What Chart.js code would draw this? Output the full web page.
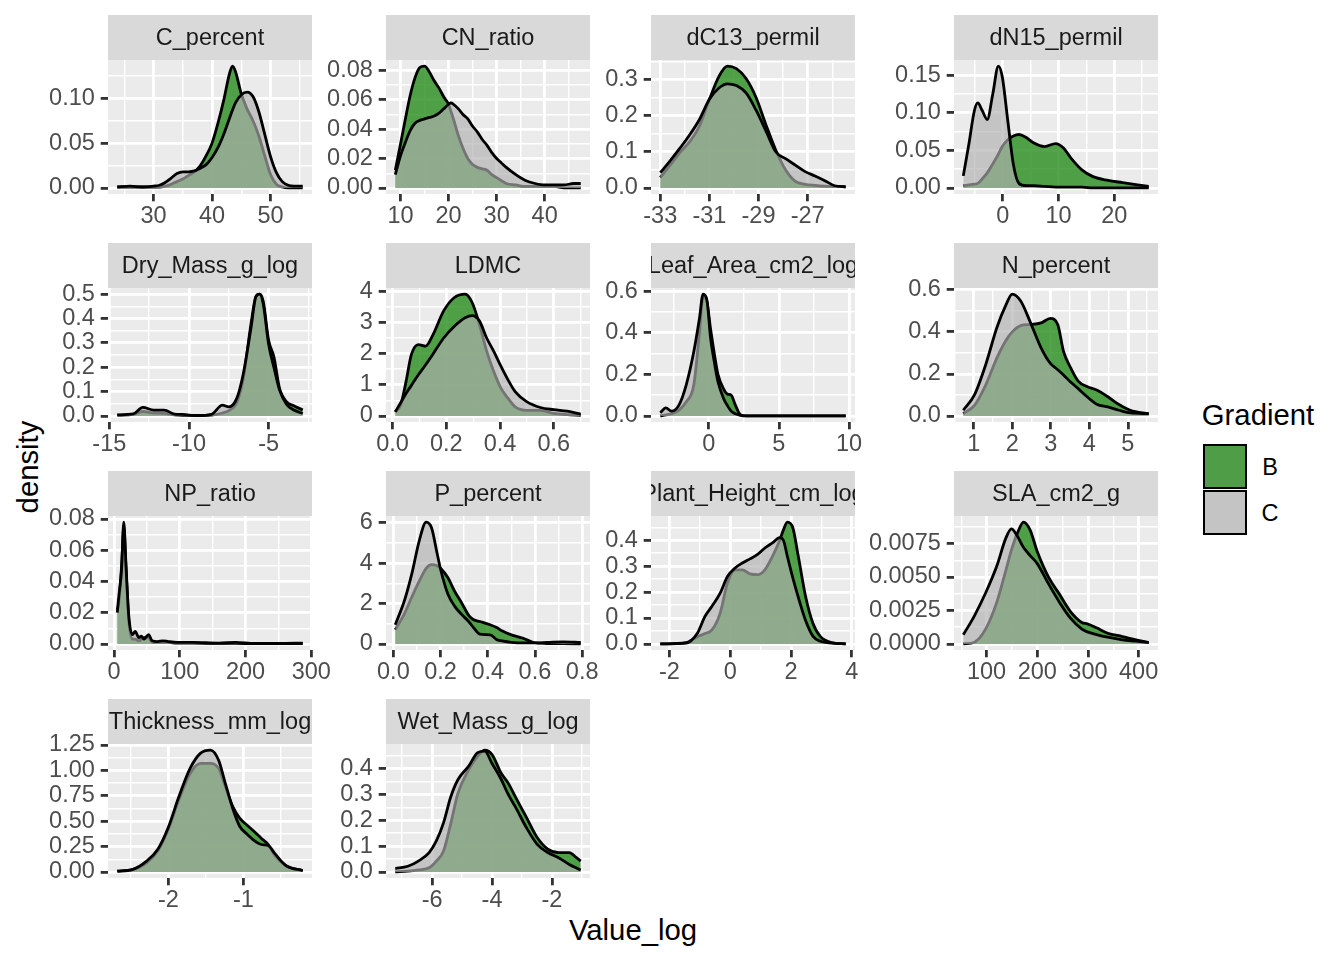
<!DOCTYPE html>
<html>
<head>
<meta charset="utf-8">
<script src="https://cdn.jsdelivr.net/npm/chart.js@4.4.1/dist/chart.umd.min.js"></script>
<style>
  body { margin: 0; background: #fff; width: 1344px; height: 960px; position: relative; overflow: hidden;
         font-family: "Liberation Sans", Arial, Helvetica, sans-serif; }
  canvas { position: absolute; }
  .txt { position: absolute; white-space: nowrap; transform: translate(-50%, -50%); color: #000; }
  .key { position: absolute; box-sizing: border-box; border: 2.8px solid #000; width: 44px; height: 45px; }
</style>
</head>
<body>

<div class="txt" style="left:633px;top:930px;font-size:29.3px">Value_log</div>
<div class="txt" style="left:28px;top:467px;font-size:29.3px;transform:translate(-50%,-50%) rotate(-90deg)">density</div>

<div class="txt" style="left:1258px;top:415px;font-size:29.3px">Gradient</div>
<div class="key" style="left:1203px;top:444px;background:#4f9e47"></div>
<div class="key" style="left:1203px;top:490px;background:#c4c4c4"></div>
<div class="txt" style="left:1270px;top:467px;font-size:23.5px;color:#000">B</div>
<div class="txt" style="left:1270px;top:513px;font-size:23.5px;color:#000">C</div>

<script>
const FONT = '"Liberation Sans", Arial, Helvetica, sans-serif';

// facet names, in panel order
const traits = ['C_percent', 'CN_ratio', 'dC13_permil', 'dN15_permil', 'Dry_Mass_g_log', 'LDMC',
  'Leaf_Area_cm2_log', 'N_percent', 'NP_ratio', 'P_percent', 'Plant_Height_cm_log', 'SLA_cm2_g',
  'Thickness_mm_log', 'Wet_Mass_g_log'];

// density curves: x grid, gradient B, gradient C
const cPctX = [23.8, 26, 28, 30, 31, 32, 33, 34, 35, 36, 37, 38, 39, 40, 41, 42, 43, 43.5, 44, 45, 46, 47, 48, 49, 50, 51, 52, 53, 54, 55.5];
const cPctB = [0.001, 0.001, 0.001, 0.001, 0.001, 0.002, 0.004, 0.007, 0.010, 0.014, 0.018, 0.025, 0.036, 0.05, 0.072, 0.098, 0.128, 0.136, 0.13, 0.105, 0.088, 0.075, 0.058, 0.036, 0.015, 0.004, 0.001, 0, 0, 0];
const cPctC = [0.001, 0.002, 0.001, 0.002, 0.003, 0.006, 0.011, 0.016, 0.018, 0.018, 0.019, 0.022, 0.026, 0.034, 0.045, 0.06, 0.078, 0.087, 0.095, 0.104, 0.107, 0.102, 0.085, 0.06, 0.035, 0.017, 0.007, 0.003, 0.002, 0.002];

const cnX = [8.9, 10, 11, 12, 13, 14, 15, 16, 17, 18, 19, 20, 20.5, 21, 22, 23, 24, 25, 26, 27, 28, 29, 30, 31, 32, 34, 36, 38, 40, 42, 44, 46, 47.5];
const cnB = [0.012, 0.03, 0.047, 0.063, 0.075, 0.082, 0.083, 0.079, 0.073, 0.068, 0.062, 0.057, 0.052, 0.047, 0.036, 0.027, 0.02, 0.016, 0.014, 0.013, 0.012, 0.009, 0.007, 0.005, 0.003, 0.002, 0.001, 0.001, 0.001, 0.001, 0, 0, 0];
const cnC = [0.009, 0.022, 0.031, 0.039, 0.044, 0.046, 0.047, 0.048, 0.049, 0.051, 0.054, 0.057, 0.058, 0.057, 0.054, 0.05, 0.047, 0.042, 0.038, 0.033, 0.029, 0.024, 0.02, 0.017, 0.014, 0.009, 0.005, 0.003, 0.002, 0.002, 0.002, 0.003, 0.003];

const dC13X = [-33, -32.6, -32.2, -31.8, -31.4, -31.0, -30.6, -30.27, -29.9, -29.5, -29.1, -28.7, -28.3, -27.9, -27.5, -27.1, -26.7, -26.3, -25.9, -25.45];
const dC13B = [0.029, 0.063, 0.098, 0.128, 0.172, 0.245, 0.31, 0.337, 0.33, 0.302, 0.25, 0.175, 0.105, 0.05, 0.018, 0.01, 0.007, 0.005, 0.004, 0.003];
const dC13C = [0.042, 0.075, 0.11, 0.147, 0.19, 0.245, 0.277, 0.288, 0.283, 0.262, 0.215, 0.158, 0.1, 0.081, 0.063, 0.045, 0.033, 0.02, 0.006, 0.003];

const dN15X = [-7.1, -6.1, -5.1, -4.5, -3.7, -2.8, -1.8, -0.8, -0.1, 0.9, 1.9, 2.9, 4.2, 5.5, 7.5, 9.5, 10.9, 12.2, 14.2, 16.2, 18.9, 21.5, 24.2, 26.2];
const dN15B = [0.003, 0.004, 0.005, 0.006, 0.012, 0.02, 0.032, 0.045, 0.055, 0.064, 0.069, 0.071, 0.067, 0.06, 0.055, 0.059, 0.053, 0.04, 0.024, 0.015, 0.01, 0.007, 0.004, 0.002];
const dN15C = [0.016, 0.058, 0.103, 0.113, 0.103, 0.091, 0.125, 0.162, 0.148, 0.089, 0.031, 0.006, 0.003, 0.003, 0.002, 0.001, 0.001, 0.001, 0.001, 0, 0, 0, 0, 0];

const dryX = [-14.5, -13.5, -12.9, -12.2, -11.55, -10.9, -10.4, -9.5, -8.6, -7.9, -7.5, -7.0, -6.6, -6.1, -5.8, -5.56, -5.34, -5.0, -4.66, -4.32, -3.87, -3.42, -2.86];
const dryB = [0.003, 0.006, 0.018, 0.012, 0.01, 0.004, 0.002, 0.002, 0.003, 0.012, 0.022, 0.055, 0.15, 0.38, 0.49, 0.5, 0.47, 0.31, 0.24, 0.114, 0.058, 0.042, 0.024];
const dryC = [0.004, 0.008, 0.035, 0.024, 0.024, 0.007, 0.006, 0.001, 0.006, 0.044, 0.037, 0.072, 0.17, 0.364, 0.489, 0.5, 0.46, 0.294, 0.197, 0.107, 0.047, 0.024, 0.01];

const ldmcX = [0.01, 0.03, 0.05, 0.07, 0.096, 0.123, 0.15, 0.19, 0.23, 0.27, 0.296, 0.323, 0.35, 0.376, 0.403, 0.43, 0.456, 0.5, 0.55, 0.6, 0.65, 0.7];
const ldmcB = [0.13, 0.35, 1.1, 1.97, 2.29, 2.24, 2.6, 3.37, 3.8, 3.91, 3.64, 2.94, 2.08, 1.43, 0.89, 0.56, 0.29, 0.18, 0.18, 0.08, 0.04, 0.02];
const ldmcC = [0.13, 0.42, 0.72, 0.98, 1.32, 1.64, 1.98, 2.5, 2.88, 3.15, 3.22, 3.05, 2.5, 2.08, 1.6, 1.15, 0.78, 0.45, 0.27, 0.2, 0.15, 0.06];

const leafX = [-3.45, -3.05, -2.65, -2.12, -1.6, -1.06, -0.66, -0.4, -0.13, 0.13, 0.4, 0.66, 1.06, 1.33, 1.6, 1.9, 2.25, 2.65, 4, 6, 8, 9.76];
const leafB = [0, 0.005, 0.011, 0.028, 0.068, 0.15, 0.4, 0.575, 0.55, 0.42, 0.3, 0.2, 0.13, 0.105, 0.1, 0.052, 0.006, 0, 0, 0, 0, 0];
const leafC = [0.015, 0.039, 0.023, 0.052, 0.15, 0.31, 0.47, 0.587, 0.56, 0.376, 0.26, 0.165, 0.084, 0.05, 0.023, 0.01, 0.003, 0, 0, 0, 0, 0];

const nPctX = [0.73, 1.02, 1.31, 1.6, 1.84, 2.0, 2.22, 2.46, 2.75, 2.99, 3.18, 3.33, 3.52, 3.71, 3.95, 4.19, 4.48, 4.77, 5.06, 5.54];
const nPctB = [0.011, 0.05, 0.147, 0.275, 0.36, 0.4, 0.43, 0.435, 0.443, 0.464, 0.435, 0.307, 0.227, 0.166, 0.139, 0.123, 0.091, 0.054, 0.027, 0.01];
const nPctC = [0.027, 0.1, 0.243, 0.42, 0.53, 0.58, 0.547, 0.45, 0.323, 0.25, 0.22, 0.195, 0.16, 0.13, 0.09, 0.056, 0.043, 0.027, 0.014, 0.011];

const npX = [4.9, 7.1, 11.5, 14.8, 18, 22.4, 27.9, 32.2, 37.7, 41.5, 45.4, 52.5, 58, 66, 74.3, 82.5, 96, 120, 159, 185, 214, 250, 287];
const npB = [0.022, 0.026, 0.05, 0.075, 0.05, 0.015, 0.003, 0.003, 0.002, 0.003, 0.004, 0.004, 0.001, 0.001, 0.001, 0.001, 0.0005, 0.0005, 0.0003, 0.0003, 0.0002, 0.0002, 0.0002];
const npC = [0.02, 0.03, 0.048, 0.078, 0.052, 0.018, 0.006, 0.008, 0.004, 0.005, 0.003, 0.006, 0.002, 0.0015, 0.002, 0.0015, 0.001, 0.001, 0.0005, 0.001, 0.0003, 0.0003, 0.0005];

const pPctX = [0.008, 0.048, 0.079, 0.109, 0.139, 0.162, 0.185, 0.2, 0.23, 0.26, 0.29, 0.32, 0.34, 0.367, 0.41, 0.44, 0.46, 0.5, 0.55, 0.594, 0.65, 0.72, 0.794];
const pPctB = [0.7, 1.53, 2.35, 3.1, 3.75, 3.93, 3.88, 3.75, 3.3, 2.6, 2.02, 1.4, 1.2, 1.11, 0.95, 0.8, 0.65, 0.45, 0.28, 0.07, 0.02, 0.01, 0];
const pPctC = [0.95, 2.19, 3.52, 5.09, 6.04, 5.75, 4.51, 3.7, 2.5, 1.86, 1.45, 1.1, 0.8, 0.48, 0.45, 0.2, 0.15, 0.08, 0.05, 0.05, 0.07, 0.1, 0.07];

const heightX = [-2.3, -1.45, -1.08, -0.83, -0.6, -0.33, -0.09, 0.16, 0.4, 0.65, 0.9, 1.14, 1.39, 1.63, 1.75, 1.88, 2.06, 2.24, 2.48, 2.72, 2.97, 3.34, 3.8];
const heightB = [0, 0.005, 0.028, 0.04, 0.054, 0.119, 0.235, 0.286, 0.286, 0.27, 0.267, 0.286, 0.338, 0.4, 0.44, 0.47, 0.448, 0.338, 0.183, 0.08, 0.028, 0.005, 0];
const heightC = [0, 0.003, 0.041, 0.106, 0.145, 0.196, 0.26, 0.293, 0.312, 0.328, 0.345, 0.37, 0.39, 0.41, 0.4, 0.338, 0.255, 0.18, 0.09, 0.03, 0.01, 0.003, 0];

const slaX = [54, 76, 98, 120, 138, 149, 160, 173, 186, 200, 222, 244, 266, 288, 299, 317, 339, 368, 395, 420];
const slaB = [0, 0.00013, 0.0011, 0.0031, 0.0055, 0.007, 0.0082, 0.0091, 0.0085, 0.0069, 0.005, 0.0037, 0.0024, 0.0016, 0.0015, 0.0012, 0.0008, 0.00055, 0.0003, 0.0001];
const slaC = [0.00068, 0.0021, 0.0038, 0.0058, 0.0079, 0.0086, 0.0081, 0.0072, 0.0066, 0.006, 0.0045, 0.0031, 0.0019, 0.0011, 0.0009, 0.0007, 0.0005, 0.0003, 0.0002, 0.0001];

const thickX = [-2.68, -2.48, -2.29, -2.14, -2.0, -1.86, -1.71, -1.57, -1.44, -1.33, -1.24, -1.14, -1.05, -0.95, -0.86, -0.76, -0.67, -0.58, -0.43, -0.21];
const thickB = [0.007, 0.023, 0.09, 0.207, 0.42, 0.71, 0.97, 1.07, 1.07, 1.02, 0.84, 0.64, 0.53, 0.46, 0.4, 0.33, 0.27, 0.16, 0.06, 0.013];
const thickC = [0.007, 0.023, 0.107, 0.223, 0.44, 0.74, 1.02, 1.17, 1.2, 1.1, 0.87, 0.62, 0.45, 0.37, 0.31, 0.27, 0.26, 0.18, 0.06, 0.013];

const wetX = [-7.23, -6.81, -6.46, -6.1, -5.86, -5.62, -5.38, -5.14, -4.78, -4.48, -4.24, -4.0, -3.7, -3.46, -3.22, -2.86, -2.5, -2.14, -1.78, -1.42, -1.18, -1.04];
const wetB = [0, 0.003, 0.008, 0.016, 0.042, 0.081, 0.186, 0.304, 0.396, 0.449, 0.472, 0.455, 0.383, 0.344, 0.291, 0.213, 0.134, 0.088, 0.075, 0.075, 0.055, 0.042];
const wetC = [0.013, 0.022, 0.042, 0.075, 0.12, 0.19, 0.29, 0.357, 0.41, 0.462, 0.468, 0.42, 0.36, 0.3, 0.252, 0.173, 0.108, 0.075, 0.055, 0.029, 0.015, 0.007];

// tick labels per panel (x, then y)
const xTickLabels = [
  ['30', '40', '50'], ['10', '20', '30', '40'], ['-33', '-31', '-29', '-27'], ['0', '10', '20'],
  ['-15', '-10', '-5'], ['0.0', '0.2', '0.4', '0.6'], ['0', '5', '10'], ['1', '2', '3', '4', '5'],
  ['0', '100', '200', '300'], ['0.0', '0.2', '0.4', '0.6', '0.8'], ['-2', '0', '2', '4'], ['100', '200', '300', '400'],
  ['-2', '-1'], ['-6', '-4', '-2']
];
const yTickLabels = [
  ['0.00', '0.05', '0.10'], ['0.00', '0.02', '0.04', '0.06', '0.08'], ['0.0', '0.1', '0.2', '0.3'], ['0.00', '0.05', '0.10', '0.15'],
  ['0.0', '0.1', '0.2', '0.3', '0.4', '0.5'], ['0', '1', '2', '3', '4'], ['0.0', '0.2', '0.4', '0.6'], ['0.0', '0.2', '0.4', '0.6'],
  ['0.00', '0.02', '0.04', '0.06', '0.08'], ['0', '2', '4', '6'], ['0.0', '0.1', '0.2', '0.3', '0.4'], ['0.0000', '0.0025', '0.0050', '0.0075'],
  ['0.00', '0.25', '0.50', '0.75', '1.00', '1.25'], ['0.0', '0.1', '0.2', '0.3', '0.4']
];

const curves = [
  [cPctX, cPctB, cPctC], [cnX, cnB, cnC], [dC13X, dC13B, dC13C], [dN15X, dN15B, dN15C],
  [dryX, dryB, dryC], [ldmcX, ldmcB, ldmcC], [leafX, leafB, leafC], [nPctX, nPctB, nPctC],
  [npX, npB, npC], [pPctX, pPctB, pPctC], [heightX, heightB, heightC], [slaX, slaB, slaC],
  [thickX, thickB, thickC], [wetX, wetB, wetC]
];

// layout (px)
const COL_LEFT = [108, 386, 651, 954];
const PANEL_W = 204, PANEL_H = 134, STRIP_H = 45;
const ROW_TOP = [15, 243, 471, 699];
const AXIS_W = 100, AXIS_H = 42, PAD_R = 36;

const FILL_B = 'rgba(40,140,30,0.8)';
const FILL_C = 'rgba(176,176,176,0.66)';

function minorTicks(major, lo, hi) {
  const step = major.length > 1 ? major[1] - major[0] : 1;
  const out = [major[0] - step / 2];
  major.forEach(v => out.push(v + step / 2));
  return out.filter(v => v > lo && v < hi);
}

function axis(lo, hi, labels, isX) {
  const major = labels.map(Number);
  const tol = (hi - lo) * 1e-6;
  const isMajor = v => major.some(m => Math.abs(m - v) < tol);
  const all = major.filter(v => v >= lo && v <= hi).concat(minorTicks(major, lo, hi)).sort((a, b) => a - b);
  return {
    type: 'linear', min: lo, max: hi, bounds: 'data',
    afterBuildTicks: s => { s.ticks = all.map(v => ({ value: v })); },
    afterFit: s => { if (isX) s.height = AXIS_H; else s.width = AXIS_W; },
    ticks: {
      autoSkip: false, maxRotation: 0, minRotation: 0,
      padding: isX ? 3 : 5.9,
      color: '#4D4D4D',
      font: { family: FONT, size: 23.5, lineHeight: 1 },
      callback: v => {
        const k = major.findIndex(m => Math.abs(m - v) < tol);
        return k < 0 ? '' : labels[k];
      }
    },
    grid: {
      color: '#FFFFFF',
      lineWidth: c => (c.tick && isMajor(c.tick.value)) ? 2.8 : 1.4,
      drawTicks: true, tickLength: 7.3, tickWidth: 2.8,
      tickColor: c => (c.tick && isMajor(c.tick.value)) ? '#333333' : 'rgba(0,0,0,0)'
    },
    border: { display: false }
  };
}

// grey panel background + facet strip
function stripPlugin(name) {
  return {
    id: 'strip',
    beforeDraw(chart) {
      const { ctx, chartArea: a } = chart;
      ctx.save();
      ctx.fillStyle = '#EBEBEB';
      ctx.fillRect(a.left, a.top, a.width, a.height);
      ctx.fillStyle = '#D9D9D9';
      ctx.fillRect(a.left, a.top - STRIP_H, a.width, STRIP_H);
      ctx.beginPath();
      ctx.rect(a.left, a.top - STRIP_H, a.width, STRIP_H);
      ctx.clip();
      ctx.fillStyle = '#1A1A1A';
      ctx.font = '23.5px ' + FONT;
      ctx.textAlign = 'center';
      ctx.textBaseline = 'middle';
      ctx.fillText(name, a.left + a.width / 2, a.top - STRIP_H / 2 + 1);
      ctx.restore();
    }
  };
}

traits.forEach((name, i) => {
  const [xs, bs, cs] = curves[i];
  const col = i % 4, row = Math.floor(i / 4);

  const xLo = Math.min(...xs), xHi = Math.max(...xs);
  const xPad = (xHi - xLo) * 0.05;
  const yMax = Math.max(...bs, ...cs);

  const canvas = document.createElement('canvas');
  canvas.width = AXIS_W + PANEL_W + PAD_R;
  canvas.height = STRIP_H + PANEL_H + AXIS_H;
  canvas.style.left = (COL_LEFT[col] - AXIS_W) + 'px';
  canvas.style.top = ROW_TOP[row] + 'px';
  document.body.appendChild(canvas);

  const series = (ys, fill, order, label) => ({
    label, order,
    data: xs.map((x, k) => ({ x, y: ys[k] })),
    borderColor: '#000000', borderWidth: 2.8,
    backgroundColor: fill, fill: 'origin',
    pointRadius: 0, cubicInterpolationMode: 'monotone', borderJoinStyle: 'round'
  });

  new Chart(canvas, {
    type: 'line',
    data: { datasets: [series(bs, FILL_B, 2, 'B'), series(cs, FILL_C, 1, 'C')] },
    options: {
      responsive: false, animation: false, events: [],
      layout: { padding: { top: STRIP_H, right: PAD_R, left: 0, bottom: 0 } },
      plugins: { legend: { display: false }, tooltip: { enabled: false } },
      scales: {
        x: axis(xLo - xPad, xHi + xPad, xTickLabels[i], true),
        y: axis(-0.05 * yMax, 1.05 * yMax, yTickLabels[i], false)
      }
    },
    plugins: [stripPlugin(name)]
  });
});
</script>
</body>
</html>
